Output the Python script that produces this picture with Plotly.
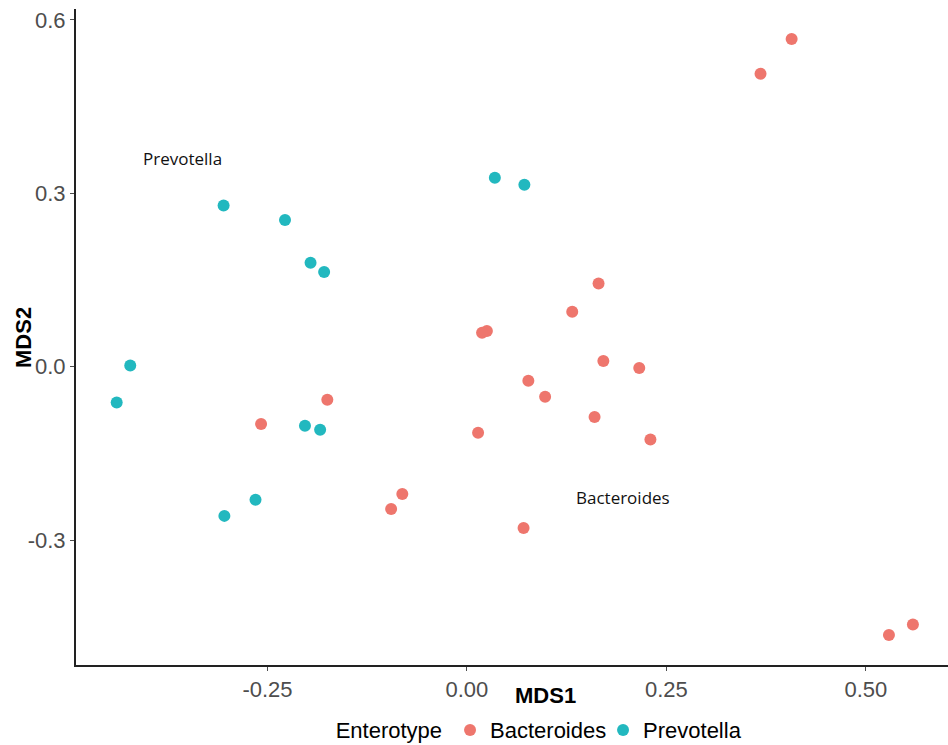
import plotly.graph_objects as go

# Data
bact_x = [0.407, 0.368, 0.165, 0.132, 0.025, 0.019, 0.171, 0.216, 0.077, 0.098,
          0.160, 0.230, 0.014, -0.175, -0.258, -0.081, -0.095, 0.071, 0.529, 0.559]
bact_y = [0.567, 0.507, 0.144, 0.095, 0.062, 0.059, 0.010, -0.002, -0.024, -0.052,
          -0.087, -0.126, -0.114, -0.057, -0.099, -0.220, -0.246, -0.279, -0.464, -0.446]
prev_x = [-0.305, -0.228, -0.196, -0.179, 0.035, 0.072, -0.422, -0.439, -0.203, -0.184, -0.265, -0.304]
prev_y = [0.279, 0.254, 0.180, 0.164, 0.327, 0.315, 0.002, -0.062, -0.102, -0.109, -0.230, -0.258]

label_text = ["Prevotella", "Bacteroides"]
label_x = [-0.356, 0.195]
label_y = [0.360, -0.227]

x_ticks = [-0.25, 0.0, 0.25, 0.50]
x_ticktext = ["-0.25", "0.00", "0.25", "0.50"]
y_ticks = [-0.3, 0.0, 0.3, 0.6]
y_ticktext = ["-0.3", "0.0", "0.3", "0.6"]

RED = "#EE766D"
TEAL = "#22B8BF"

fig = go.Figure()
fig.add_trace(go.Scatter(x=bact_x, y=bact_y, mode="markers", name="Bacteroides",
                         marker=dict(color=RED, size=12)))
fig.add_trace(go.Scatter(x=prev_x, y=prev_y, mode="markers", name="Prevotella",
                         marker=dict(color=TEAL, size=12)))

for t, x, y in zip(label_text, label_x, label_y):
    fig.add_annotation(x=x, y=y, text=t, showarrow=False,
                       font=dict(family="Open Sans", size=17, color="#111111"))

fig.add_annotation(x=0.538, y=-0.046, xref="paper", yref="paper", text="<b>MDS1</b>",
                   showarrow=False, xanchor="center", yanchor="middle",
                   font=dict(family="Liberation Sans, Arial", size=22, color="black"))
fig.add_annotation(x=-0.0608, y=0.5, xref="paper", yref="paper", text="<b>MDS2</b>",
                   showarrow=False, xanchor="center", yanchor="middle", textangle=-90,
                   font=dict(family="Liberation Sans, Arial", size=22, color="black"))

fig.update_layout(
    width=948, height=745,
    margin=dict(l=76, r=0, t=9, b=80, autoexpand=False),
    plot_bgcolor="white", paper_bgcolor="white",
    font=dict(family="Liberation Sans, Arial", size=20, color="#4d4d4d"),
    showlegend=True,
    legend=dict(orientation="h", x=0.538, xanchor="center",
                yref="container", y=0.020, yanchor="middle",
                title=dict(text="Enterotype", side="left", font=dict(size=22, color="black")),
                font=dict(size=22, color="black"), itemwidth=30, tracegroupgap=0,
                entrywidth=108, entrywidthmode="pixels"),
    xaxis=dict(range=[-0.490, 0.603], showgrid=False, zeroline=False,
               showline=True, linecolor="#222222", linewidth=2,
               ticks="outside", ticklen=4, tickcolor="#4d4d4d", tickwidth=1,
               tickvals=x_ticks, ticktext=x_ticktext,
               tickfont=dict(size=22, color="#4d4d4d")),
    yaxis=dict(range=[-0.516, 0.619], showgrid=False, zeroline=False,
               showline=True, linecolor="#222222", linewidth=2,
               ticks="outside", ticklen=4, tickcolor="#4d4d4d", tickwidth=1,
               tickvals=y_ticks, ticktext=y_ticktext,
               tickfont=dict(size=22, color="#4d4d4d")),
)

fig.write_html("out.html")
